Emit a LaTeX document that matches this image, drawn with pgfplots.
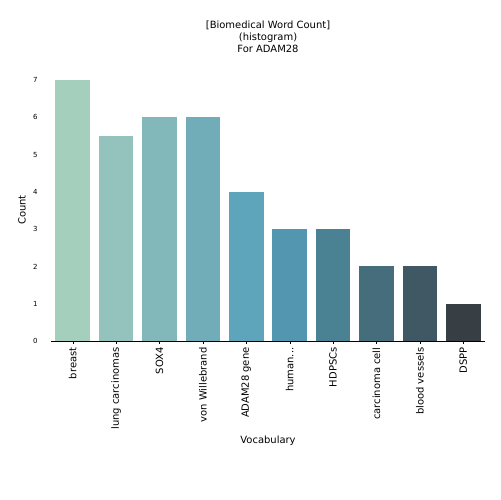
\documentclass[border=0pt]{standalone}
\usepackage{pgfplots}
\pgfplotsset{compat=1.18}
\usepackage{fontspec}
\setmainfont{DejaVu Sans}
\definecolor{c0}{HTML}{A5CFBD}
\definecolor{c1}{HTML}{93C3BC}
\definecolor{c2}{HTML}{82B8B9}
\definecolor{c3}{HTML}{70ADB8}
\definecolor{c4}{HTML}{5EA4BB}
\definecolor{c5}{HTML}{5296B0}
\definecolor{c6}{HTML}{4A8294}
\definecolor{c7}{HTML}{466D7B}
\definecolor{c8}{HTML}{3F5864}
\definecolor{c9}{HTML}{373F45}
\begin{document}
\begin{tikzpicture}[x=1bp,y=1bp]
\path[use as bounding box] (0,0) rectangle (500,500);
\begin{axis}[at={(51bp,159bp)}, anchor=south west, scale only axis,
 width=434bp, height=261bp, xmin=-0.5, xmax=9.5, ymin=0, ymax=7,
 axis x line*=bottom, axis y line=none,
 xtick={0,1,2,3,4,5,6,7,8,9},
 xticklabels={breast,lung carcinomas,SOX4,von Willebrand,ADAM28 gene,{human{.}{.}{.}},HDPSCs,carcinoma cell,blood vessels,DSPP},
 x tick label style={rotate=90, anchor=east, font=\fontsize{10}{12}\selectfont},
 xtick style={draw=black}, major tick length=3bp, tick align=outside,
 xlabel={Vocabulary}, xlabel style={font=\fontsize{10}{12}\selectfont},
 every axis plot/.style={ybar, bar width=0.8, draw=none, bar shift=0pt},
 clip=false]
\addplot[fill=c0] coordinates {(0,7)};
\addplot[fill=c1] coordinates {(1,5.5)};
\addplot[fill=c2] coordinates {(2,6)};
\addplot[fill=c3] coordinates {(3,6)};
\addplot[fill=c4] coordinates {(4,4)};
\addplot[fill=c5] coordinates {(5,3)};
\addplot[fill=c6] coordinates {(6,3)};
\addplot[fill=c7] coordinates {(7,2)};
\addplot[fill=c8] coordinates {(8,2)};
\addplot[fill=c9] coordinates {(9,1)};
\end{axis}
\foreach \v in {0,1,2,3,4,5,6,7} {\node[font=\fontsize{7}{8}\selectfont, anchor=east] at (41,{159+\v*261/7}) {\v};}
\node[rotate=90, font=\fontsize{10}{12}\selectfont] at (22,290) {Count};
\node[align=center, font=\fontsize{10}{12}\selectfont] at (268,463) {[Biomedical Word Count]\\(histogram)\\For ADAM28};
\end{tikzpicture}
\end{document}
